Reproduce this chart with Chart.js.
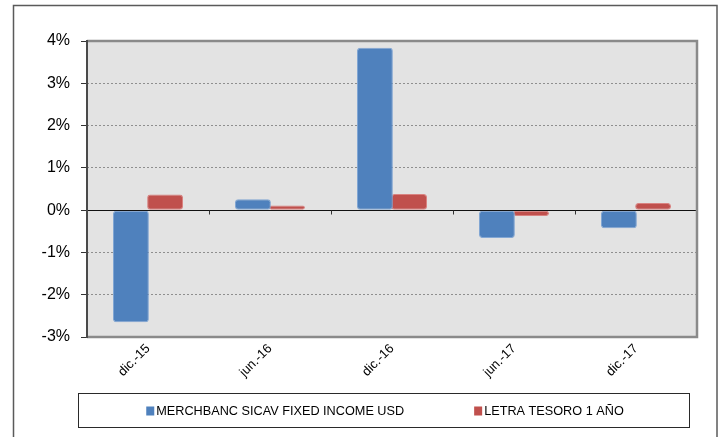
<!DOCTYPE html>
<html>
<head>
<meta charset="utf-8">
<script src="https://cdn.jsdelivr.net/npm/chart.js@4.4.1/dist/chart.umd.min.js"></script>
<style>
  html, body { margin: 0; padding: 0; background: #ffffff; }
  #wrap { width: 723px; height: 437px; position: relative; }
</style>
</head>
<body>
<div id="wrap"><canvas id="c" width="723" height="437"></canvas></div>
<script>
const categories = ['dic.-15', 'jun.-16', 'dic.-16', 'jun.-17', 'dic.-17'];
const fundLabel = 'MERCHBANC SICAV FIXED INCOME USD';
const letraLabel = 'LETRA TESORO 1 AÑO';
const fundValues = [-2.65, 0.26, 3.84, -0.66, -0.43];
const letraValues = [0.37, 0.11, 0.38, -0.14, 0.17];
const yMin = -3, yMax = 4, yStep = 1;

const FONT = "'Liberation Sans', Arial, sans-serif";

const framePlugin = {
  id: 'frame',
  beforeDraw(chart) {
    const {ctx, chartArea: a} = chart;
    ctx.save();
    ctx.fillStyle = '#e3e3e3';
    ctx.fillRect(a.left, a.top, a.right - a.left, a.bottom - a.top);
    ctx.strokeStyle = '#5a5a5a';
    ctx.lineWidth = 1.5;
    ctx.strokeRect(13.5, 5.5, 703.5, 500);
    ctx.restore();
  },
  afterDatasetsDraw(chart) {
    const {ctx, chartArea: a, scales} = chart;
    const y0 = Math.round(scales.y.getPixelForValue(0)) + 0.5;
    ctx.save();
    ctx.strokeStyle = '#111';
    ctx.lineWidth = 1;
    ctx.beginPath();
    ctx.moveTo(a.left, y0);
    ctx.lineTo(a.right, y0);
    ctx.stroke();
    const xs = scales.x;
    const n = categories.length;
    const w = (xs.getPixelForValue(n - 1) - xs.getPixelForValue(0)) / (n - 1);
    ctx.strokeStyle = '#333';
    for (let i = 1; i < n; i++) {
      const bx = Math.round(xs.getPixelForValue(i) - w / 2) + 0.5;
      ctx.beginPath();
      ctx.moveTo(bx, y0);
      ctx.lineTo(bx, y0 + 4);
      ctx.stroke();
    }
    ctx.strokeStyle = '#8a8a8a';
    ctx.lineWidth = 2.5;
    ctx.beginPath();
    ctx.moveTo(a.left, a.top);
    ctx.lineTo(a.right, a.top);
    ctx.lineTo(a.right, a.bottom);
    ctx.lineTo(a.left, a.bottom);
    ctx.stroke();
    ctx.strokeStyle = '#4a4a4a';
    ctx.lineWidth = 2;
    ctx.beginPath();
    ctx.moveTo(a.left, a.top - 1);
    ctx.lineTo(a.left, a.bottom + 1);
    ctx.stroke();

    // legend
    const bx1 = 78.5, by1 = 393.5, bx2 = 689.5, by2 = 427.5;
    ctx.strokeStyle = '#2a2a2a';
    ctx.lineWidth = 1;
    ctx.strokeRect(bx1, by1, bx2 - bx1, by2 - by1);
    ctx.font = '12.7px ' + FONT;
    ctx.textBaseline = 'middle';
    ctx.textAlign = 'left';
    const items = chart.data.datasets.map(d => ({label: d.label, color: d.backgroundColor}));
    const sq = 8, gap = 2, spacing = 70;
    const widths = items.map(it => sq + gap + ctx.measureText(it.label).width);
    const total = widths.reduce((s, v) => s + v, 0) + spacing * (items.length - 1);
    let x = (bx1 + bx2) / 2 - total / 2 + 1;
    const cy = (by1 + by2) / 2 + 0.5;
    items.forEach((it, i) => {
      ctx.fillStyle = it.color;
      ctx.fillRect(x, cy - 4.5, sq, 9);
      ctx.fillStyle = '#000';
      ctx.fillText(it.label, x + sq + gap, cy);
      x += widths[i] + spacing;
    });
    ctx.restore();
  }
};

new Chart(document.getElementById('c'), {
  type: 'bar',
  data: {
    labels: categories,
    datasets: [
      {
        label: fundLabel,
        data: fundValues,
        backgroundColor: '#4f81bd',
        borderColor: 'rgba(120,160,210,0.9)',
        borderWidth: 1,
        borderRadius: 3,
        borderSkipped: false
      },
      {
        label: letraLabel,
        data: letraValues,
        backgroundColor: '#c0504d',
        borderColor: 'rgba(215,120,118,0.9)',
        borderWidth: 1,
        borderRadius: 3,
        borderSkipped: false
      }
    ]
  },
  options: {
    responsive: false,
    animation: false,
    devicePixelRatio: 1,
    layout: { padding: { left: 0, top: 41, right: 26, bottom: 0 } },
    datasets: { bar: { categoryPercentage: 0.56, barPercentage: 1.05 } },
    plugins: {
      legend: { display: false },
      tooltip: { enabled: false },
      title: { display: false }
    },
    scales: {
      x: {
        offset: true,
        grid: { display: false, drawTicks: false },
        border: { display: false },
        ticks: {
          color: '#000',
          font: { family: FONT, size: 13 },
          minRotation: 45,
          maxRotation: 45,
          padding: 4,
          autoSkip: false
        },
        afterFit(scale) { scale.height = 100; }
      },
      y: {
        min: yMin,
        max: yMax,
        ticks: {
          stepSize: yStep,
          color: '#000',
          font: { family: FONT, size: 16 },
          padding: 11,
          callback: v => v + '%'
        },
        grid: {
          color: '#8e8e8e',
          lineWidth: 1,
          drawTicks: true,
          tickLength: 6,
          tickColor: '#333',
          tickWidth: 1,
          tickBorderDash: []
        },
        border: { display: false, dash: [2, 2] },
        afterFit(scale) { scale.width = 87; }
      }
    }
  },
  plugins: [framePlugin]
});
</script>
</body>
</html>
